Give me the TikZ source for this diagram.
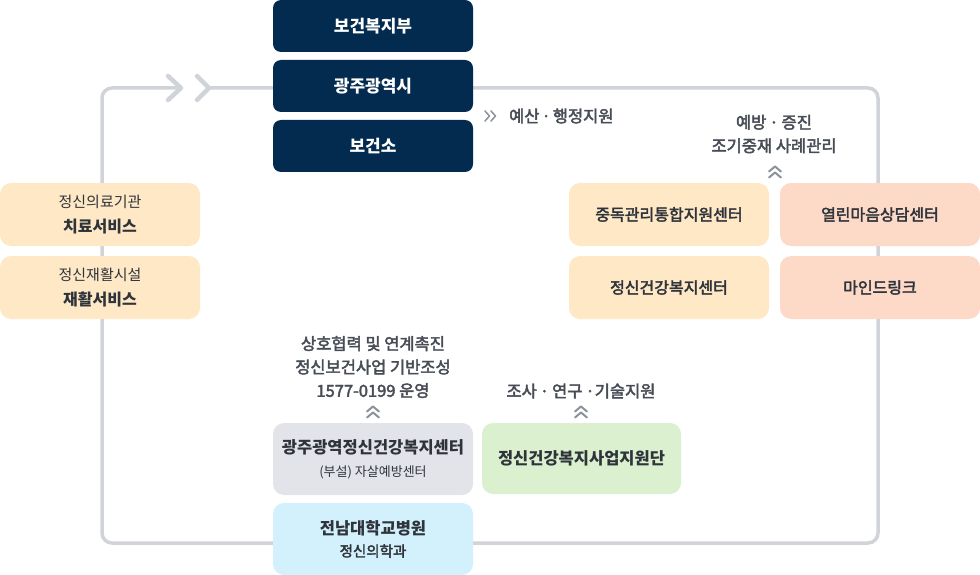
\documentclass[tikz,border=0pt]{standalone}
\usepackage{fontspec}
\setmainfont{Noto Sans CJK KR}
\newfontfamily\medfont[FakeBold=2.6]{Noto Sans CJK KR}
\definecolor{navy}{HTML}{032B4F}
\definecolor{lgray}{HTML}{D0D3D8}
\definecolor{peach}{HTML}{FEE8C6}
\definecolor{salmon}{HTML}{FDD9C8}
\definecolor{gbox}{HTML}{E3E4E9}
\definecolor{green}{HTML}{DAF0CF}
\definecolor{blue}{HTML}{D3F0FD}
\definecolor{dtext}{HTML}{2F343B}
\definecolor{ltext}{HTML}{474C55}
\definecolor{chevc}{HTML}{8C919A}
\begin{document}
\begin{tikzpicture}[x=1pt,y=-1pt,
  box/.style={rounded corners=11pt, inner sep=0pt, align=center, text=dtext, minimum width=200pt},
  nav/.style={box, fill=navy, minimum height=52pt, rounded corners=8pt, text=white, font=\fontsize{17}{20}\selectfont\bfseries},
  med/.style={font=\medfont\fontsize{16}{20}\selectfont},
  lbl/.style={align=center, inner sep=0pt, text=ltext, font=\medfont\fontsize{16.5}{23.5}\selectfont},
  loopline/.style={draw=lgray, line width=3.5pt, rounded corners=10pt},
  bigchev/.style={draw=lgray, line width=4.5pt, line cap=round, line join=round},
  chev/.style={draw=chevc, line width=2pt, line cap=round, line join=round},
  upchev/.pic={\draw[chev] (-6,-0.5) -- (0,-5.5) -- (6,-0.5); \draw[chev] (-6,5.5) -- (0,0.5) -- (6,5.5);}
]
\useasboundingbox (0,0) rectangle (980,575);
% loop
\coordinate (c1) at (181,88);
\coordinate (c2) at (209,88);
\draw[loopline] (c1) -- (102,88) -- (102,543) -- (878,543) -- (878,88) -- (c2);
\draw[bigchev] (168,76) -- (c1) -- (168,100);
\draw[bigchev] (197,76) -- (c2) -- (197,100);
% top boxes
\node[nav] (mohw) at (373,26) {보건복지부};
\node[nav] (city) at (373,86) {광주광역시};
\node[nav] (phc) at (373,146) {보건소};
% labels
\draw[chev, line width=1.5pt] (485,111) -- (489.5,116) -- (485,121);
\draw[chev, line width=1.5pt] (491,111) -- (495.5,116) -- (491,121);
\node[lbl, anchor=west] (budget) at (509,116) {예산\hspace{2pt}·\hspace{2pt}행정지원};
\node[lbl] (prev) at (774,134) {예방\hspace{3pt}·\hspace{3pt}증진\\조기중재 사례관리};
\pic at (775,172) {upchev};
\node[lbl] (coop) at (373,367) {상호협력 및 연계촉진\\정신보건사업 기반조성\\1577-0199 운영};
\pic at (373,412) {upchev};
\node[lbl] (research) at (581,391) {조사\hspace{3pt}·\hspace{3pt}연구\hspace{3pt}·기술지원};
\pic at (581,412) {upchev};
% right boxes
\node[box, med, fill=peach, minimum height=63pt] (addict) at (669,214.5) {중독관리통합지원센터};
\node[box, med, fill=salmon, minimum height=63pt] (open) at (880,214.5) {열린마음상담센터};
\node[box, med, fill=peach, minimum height=63pt] (mhc) at (669,287.5) {정신건강복지센터};
\node[box, med, fill=salmon, minimum height=63pt] (mind) at (880,287.5) {마인드링크};
% left boxes
\node[box, fill=peach, minimum height=63pt, font=\fontsize{15}{25}\selectfont] (med1) at (100,214.5) {정신의료기관\\{\bfseries\fontsize{16}{25}\selectfont 치료서비스}};
\node[box, fill=peach, minimum height=63pt, font=\fontsize{15}{25}\selectfont] (rehab) at (100,287.5) {정신재활시설\\{\bfseries\fontsize{16}{25}\selectfont 재활서비스}};
% bottom boxes
\node[box, fill=gbox, minimum height=72pt, font=\fontsize{13}{23}\selectfont] (gjmhc) at (373,459) {{\bfseries\fontsize{16.5}{23}\selectfont 광주광역정신건강복지센터}\\(부설) 자살예방센터};
\node[box, fill=green, minimum height=71pt, minimum width=199pt, font=\bfseries\fontsize{16.5}{20}\selectfont] (support) at (581.5,458.5) {정신건강복지사업지원단};
\node[box, fill=blue, minimum height=72pt, font=\fontsize{14.5}{22}\selectfont] (cnuh) at (373,539) {{\bfseries\fontsize{16.5}{22}\selectfont 전남대학교병원}\\{\medfont\fontsize{14.5}{22}\selectfont 정신의학과}};
\end{tikzpicture}
\end{document}
